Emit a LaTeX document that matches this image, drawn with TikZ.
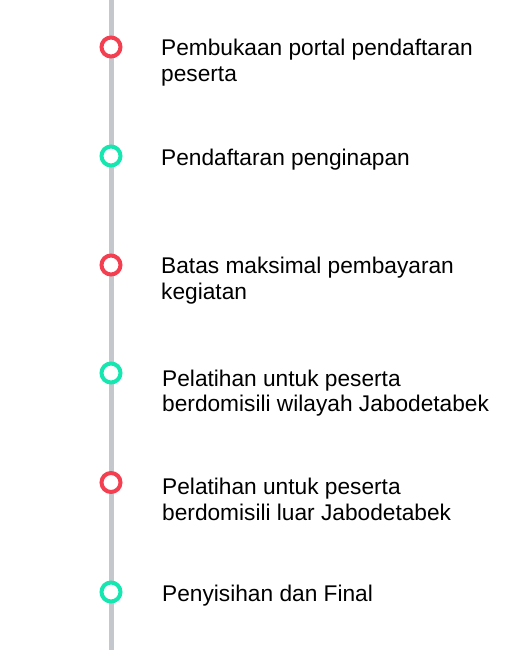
\documentclass[tikz,border=0pt]{standalone}
\usepackage{fontspec}
\setmainfont{Liberation Sans}
\definecolor{dotred}{HTML}{F43F51}
\definecolor{dotgreen}{HTML}{16E6B0}
\definecolor{railgray}{HTML}{C4C7CB}
\begin{document}
\begin{tikzpicture}[x=1pt,y=-1pt,
  rail/.style={draw=railgray,line width=5pt},
  dot/.style={circle,draw=#1,line width=4pt,fill=white,minimum size=19pt,inner sep=0pt},
  label/.style={anchor=base west,inner sep=0pt,align=left,font=\fontsize{22.7}{25.5}\selectfont}]
\useasboundingbox (0,0) rectangle (504,652);
\coordinate (top) at (111,0);
\coordinate (bot) at (111,650);
\draw[rail] (top) -- (bot);
\node[dot=dotred]   (c1) at (111,47) {};
\node[dot=dotgreen] (c2) at (111,156) {};
\node[dot=dotred]   (c3) at (111,265) {};
\node[dot=dotgreen] (c4) at (111,373) {};
\node[dot=dotred]   (c5) at (111,482.5) {};
\node[dot=dotgreen] (c6) at (111,592) {};
\node[label] (t1) at (161,81.5) {Pembukaan portal pendaftaran\\peserta};
\node[label] (t2) at (161,166) {Pendaftaran penginapan};
\node[label] (t3) at (161,299) {Batas maksimal pembayaran\\kegiatan};
\node[label] (t4) at (162,411.5) {Pelatihan untuk peserta\\berdomisili wilayah Jabodetabek};
\node[label] (t5) at (162,520) {Pelatihan untuk peserta\\berdomisili luar Jabodetabek};
\node[label] (t6) at (162,601.5) {Penyisihan dan Final};
\end{tikzpicture}
\end{document}
